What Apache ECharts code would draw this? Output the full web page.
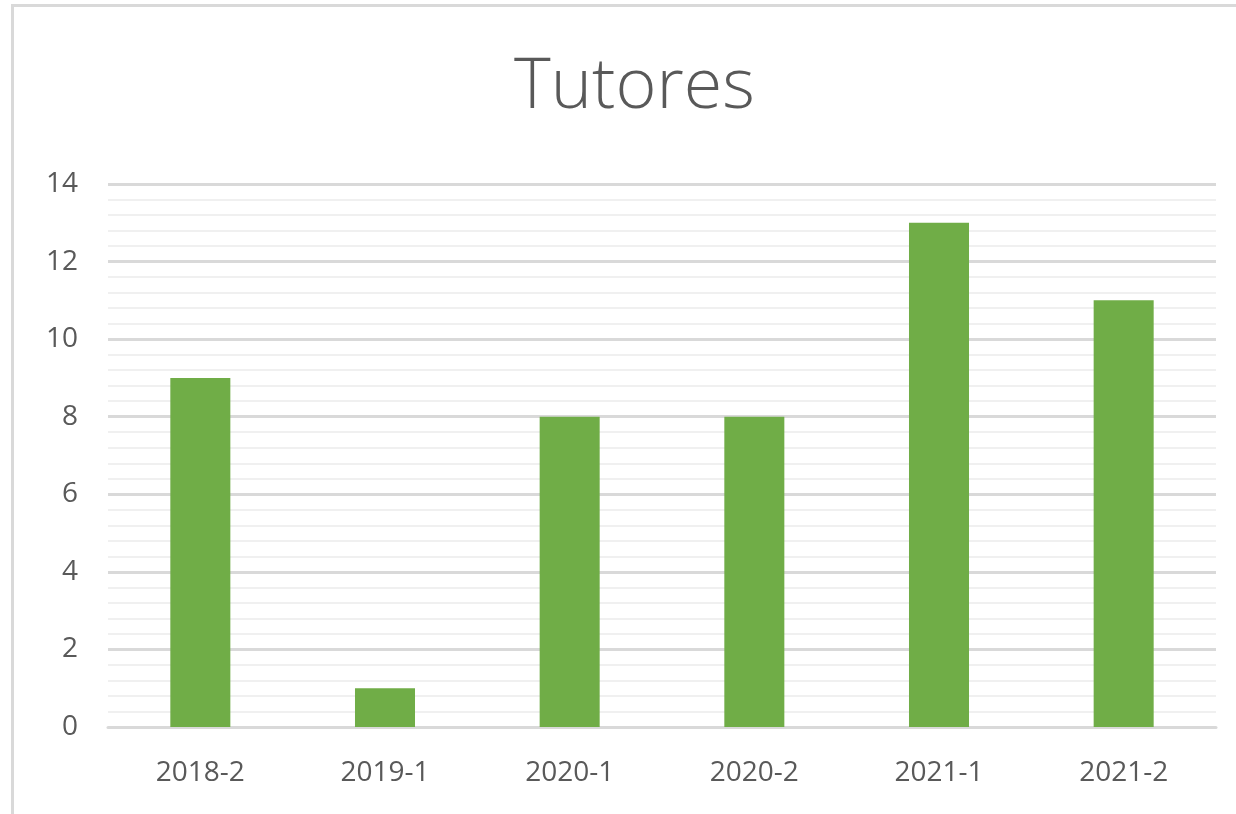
<!DOCTYPE html>
<html>
<head>
<meta charset="utf-8">
<script src="https://cdn.jsdelivr.net/npm/echarts@6/dist/echarts.min.js"></script>
<style>
    html, body { margin: 0; padding: 0; background: #fff; }
    #chart { width: 1236px; height: 814px; }
</style>
</head>
<body>
<div id="chart"></div>
<script>
// semestres y numero de tutores
var categories = ['2018-2', '2019-1', '2020-1', '2020-2', '2021-1', '2021-2'];
var tutores = [9, 1, 8, 8, 13, 11];
var yTicks = [0, 2, 4, 6, 8, 10, 12, 14];

var myChart = echarts.init(document.getElementById('chart'));
var option = {
    animation: false,
    backgroundColor: '#ffffff',
    title: {
        text: 'Tutores',
        left: 509,
        top: 48,
        textStyle: {
            color: '#595959',
            fontFamily: 'Open Sans',
            fontWeight: 300,
            fontSize: 70
        }
    },
    graphic: [
        {
            // marco del grafico (solo se ven borde izq y sup)
            type: 'rect',
            shape: { x: 12.5, y: 5.5, width: 1400, height: 1000 },
            style: { fill: 'none', stroke: '#d9d9d9', lineWidth: 3 },
            silent: true
        }
    ],
    grid: {
        left: 108,
        right: 20,
        top: 184,
        bottom: 87
    },
    xAxis: {
        type: 'category',
        data: categories,
        axisTick: { show: false },
        axisLine: {
            lineStyle: { color: '#d9d9d9', width: 3 }
        },
        axisLabel: {
            margin: 32,
            color: '#595959',
            fontFamily: 'Open Sans',
            fontSize: 28
        }
    },
    yAxis: {
        type: 'value',
        min: yTicks[0],
        max: yTicks[yTicks.length - 1],
        interval: 2,
        axisLine: { show: false },
        axisTick: { show: false },
        axisLabel: {
            margin: 30,
            color: '#595959',
            fontFamily: 'Open Sans',
            fontSize: 28
        },
        splitLine: {
            lineStyle: { color: '#d9d9d9', width: 3 }
        },
        minorTick: { show: false, splitNumber: 5 },
        minorSplitLine: {
            show: true,
            lineStyle: { color: '#f0f0f0', width: 2 }
        }
    },
    series: [
        {
            name: 'Tutores',
            type: 'bar',
            data: tutores,
            barWidth: '32.5%',
            itemStyle: { color: '#70ad47' }
        }
    ]
};
myChart.setOption(option);
</script>
</body>
</html>
